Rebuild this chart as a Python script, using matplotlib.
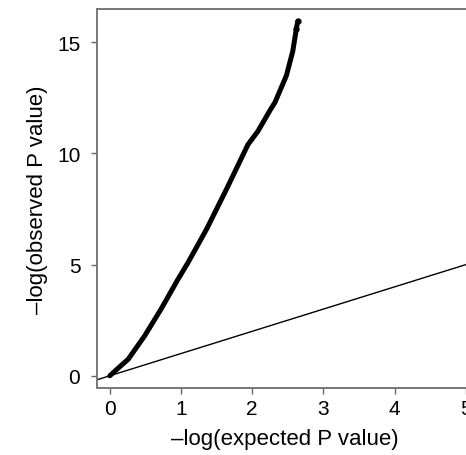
import matplotlib
matplotlib.use("Agg")
from matplotlib import pyplot as plt

# QQ curve
expected = [0, 0.12, 0.26, 0.49, 0.72, 0.95, 1.10, 1.36, 1.64, 1.94, 2.08,
            2.25, 2.32, 2.48, 2.57, 2.62, 2.64]
observed = [0, 0.35, 0.75, 1.8, 3.0, 4.3, 5.1, 6.6, 8.4, 10.4, 11.0,
            11.94, 12.3, 13.5, 14.6, 15.6, 15.95]
x_ticks = [0, 1, 2, 3, 4, 5]
y_ticks = [0, 5, 10, 15]

plt.rcParams['font.family'] = ['Liberation Sans', 'DejaVu Sans']

fig = plt.figure(figsize=(4.66, 4.56), dpi=100)
ax = fig.add_axes([97 / 466, 67 / 456, 383 / 466, 379 / 456])

ax.axline((0, 0), slope=1, color='black', lw=1.0)
ax.plot(expected, observed, color='black', lw=3.6,
        solid_capstyle='round', solid_joinstyle='round')
ax.plot(expected[-2:], observed[-2:], 'o', color='black', ms=3.5)

ax.set_xlim(-0.18, 5.2)
ax.set_ylim(-0.55, 16.5)
ax.set_xticks(x_ticks)
ax.set_yticks(y_ticks)
ax.tick_params(labelsize=15, length=4, width=1, color='#666666', direction='out')
ax.tick_params(axis='x', pad=4)
ax.tick_params(axis='y', pad=8)
for s in ax.spines.values():
    s.set_color('#777777')
    s.set_linewidth(1.4)

ax.set_xlabel('\u2013log(expected P value)', fontsize=16)
ax.set_ylabel('\u2013log(observed P value)', fontsize=16)
ax.xaxis.set_label_coords(0.491, -0.105)
ax.yaxis.set_label_coords(-0.128, 0.5)

fig.savefig('out.png', dpi=100)
